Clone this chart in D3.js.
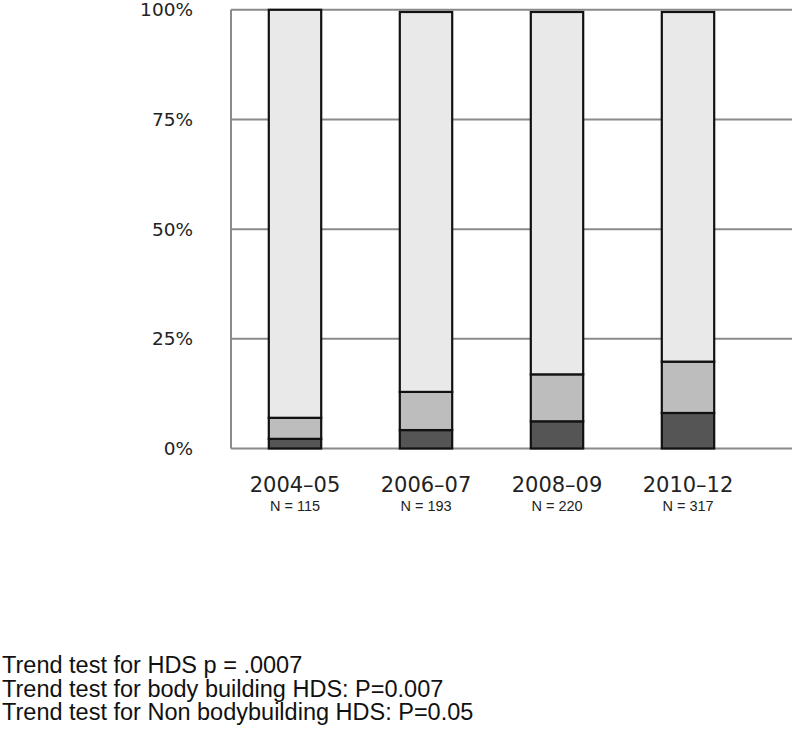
<!DOCTYPE html>
<html>
<head>
<meta charset="utf-8">
<script src="https://cdn.jsdelivr.net/npm/d3@7"></script>
<style>
  html, body { margin: 0; padding: 0; background: #fff; }
  svg { display: block; }
</style>
</head>
<body>
<svg id="chart" width="800" height="740"></svg>
<script>
// ---- Data ----
const periods = ["2004–05", "2006–07", "2008–09", "2010–12"];
const sampleSizes = ["N = 115", "N = 193", "N = 220", "N = 317"];
const bodybuildingHDS = [2.2, 4.2, 6.2, 8.1];        // dark segment (%)
const nonBodybuildingHDS = [4.8, 8.7, 10.7, 11.7];   // middle segment (%)
const noHDS = [93.0, 86.6, 82.6, 79.7];              // light segment (%)
const yTicks = [0, 25, 50, 75, 100];
const yTickLabels = ["0%", "25%", "50%", "75%", "100%"];
const footnotes = [
  "Trend test for HDS p = .0007",
  "Trend test for body building HDS: P=0.007",
  "Trend test for Non bodybuilding HDS: P=0.05"
];

const seriesKeys = ["bb", "nonbb", "none"];
const colors = { bb: "#555555", nonbb: "#bdbdbd", none: "#e9e9e9" };

const table = periods.map((p, i) => ({
  period: p, bb: bodybuildingHDS[i], nonbb: nonBodybuildingHDS[i], none: noHDS[i]
}));

// ---- Layout ----
const svg = d3.select("#chart");
const plotLeft = 231, plotRight = 792, plotTop = 9.8, plotBottom = 448.5;

const x = d3.scaleBand().domain(periods)
  .range([229.5, 753.5]).paddingInner(0.6).paddingOuter(0.3);
const y = d3.scaleLinear().domain([0, 100]).range([plotBottom, plotTop]);

// gridlines
svg.append("g").selectAll("line").data(yTicks).join("line")
  .attr("x1", plotLeft).attr("x2", plotRight)
  .attr("y1", d => y(d)).attr("y2", d => y(d))
  .attr("stroke", "#8a8a8a").attr("stroke-width", 2);

// left axis line
svg.append("line")
  .attr("x1", plotLeft).attr("x2", plotLeft)
  .attr("y1", y(100)).attr("y2", y(0))
  .attr("stroke", "#8a8a8a").attr("stroke-width", 2);

// y tick labels
svg.append("g").selectAll("text").data(yTicks).join("text")
  .attr("x", 193).attr("y", d => y(d))
  .attr("dy", "0.36em")
  .attr("text-anchor", "end")
  .attr("font-family", "DejaVu Sans, sans-serif")
  .attr("font-size", 18.5)
  .attr("fill", "#222")
  .text((d, i) => yTickLabels[i]);

// stacked bars
const stack = d3.stack().keys(seriesKeys)(table);
svg.append("g").selectAll("g").data(stack).join("g")
  .attr("fill", d => colors[d.key])
  .selectAll("rect").data(d => d).join("rect")
  .attr("x", d => x(d.data.period))
  .attr("width", x.bandwidth())
  .attr("y", d => y(d[1]))
  .attr("height", d => y(d[0]) - y(d[1]))
  .attr("stroke", "#111")
  .attr("stroke-width", 2.2);

// x labels
svg.append("g").selectAll("text").data(periods).join("text")
  .attr("x", d => x(d) + x.bandwidth() / 2)
  .attr("y", 491.5)
  .attr("text-anchor", "middle")
  .attr("font-family", "DejaVu Sans, sans-serif")
  .attr("font-size", 21)
  .attr("fill", "#222")
  .text(d => d);

svg.append("g").selectAll("text").data(sampleSizes).join("text")
  .attr("x", (d, i) => x(periods[i]) + x.bandwidth() / 2)
  .attr("y", 510.5)
  .attr("text-anchor", "middle")
  .attr("font-family", "Liberation Sans, Arial, sans-serif")
  .attr("font-size", 14.5)
  .attr("fill", "#222")
  .text(d => d);

// footnotes
svg.append("g").selectAll("text").data(footnotes).join("text")
  .attr("x", 2)
  .attr("y", (d, i) => 673 + i * 23.5)
  .attr("font-family", "Liberation Sans, Arial, sans-serif")
  .attr("font-size", 23.5)
  .attr("fill", "#111")
  .text(d => d);
</script>
</body>
</html>
